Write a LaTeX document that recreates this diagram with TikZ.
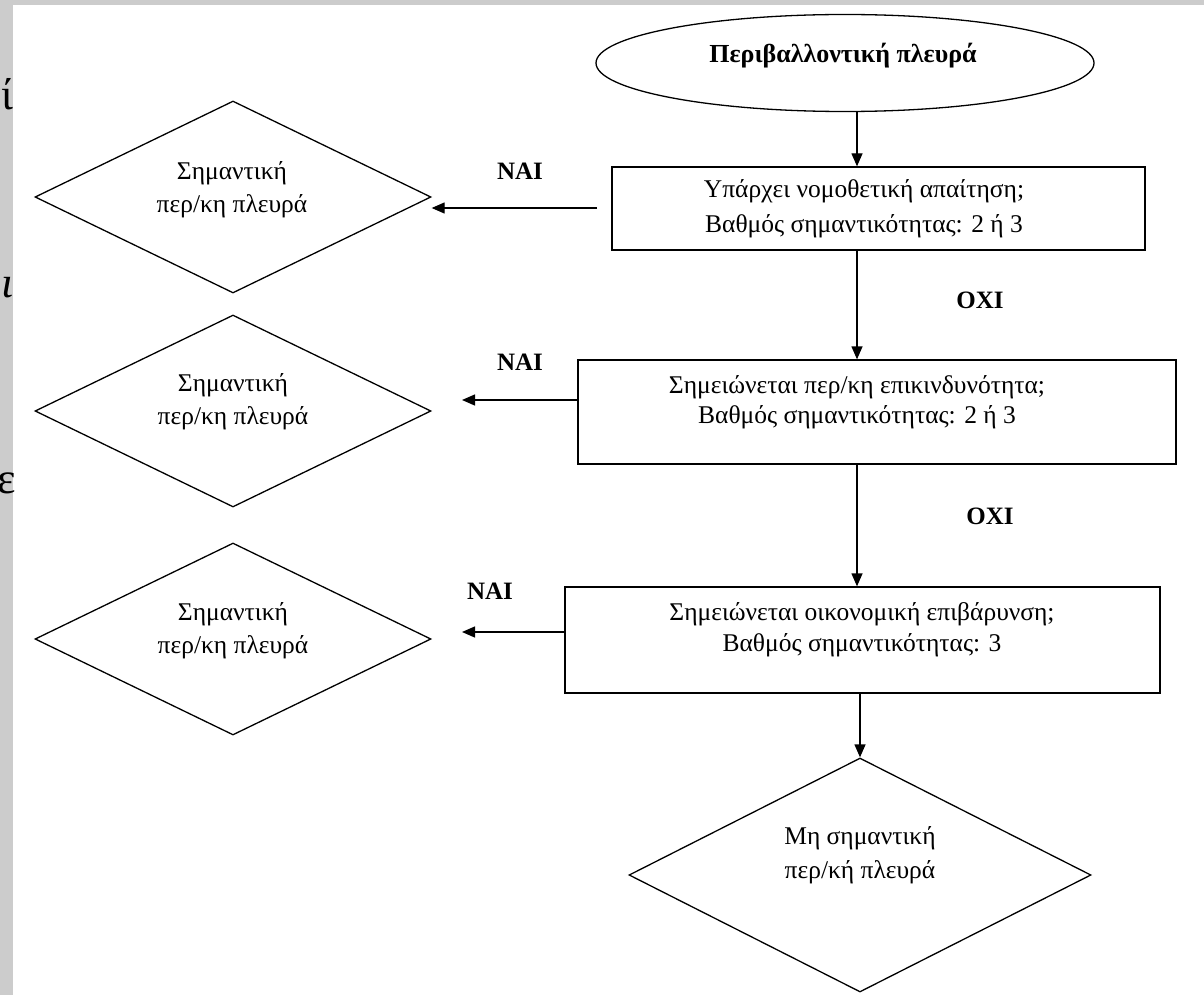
\documentclass[tikz,border=0pt]{standalone}
\usepackage{fontspec}
\setmainfont{Liberation Serif}
\usetikzlibrary{shapes.geometric,arrows.meta,calc}
\definecolor{bg}{RGB}{204,204,204}
\begin{document}
\begin{tikzpicture}[x=1pt,y=-1pt,
  shp/.style={draw=black,line width=1.3pt},
  boxn/.style={shp,rectangle,inner sep=0pt},
  diam/.style={shp,diamond,inner sep=0pt,minimum width=396pt,minimum height=192pt},
  txt/.style={align=center,inner sep=0pt},
  lbl/.style={font=\fontsize{25}{28}\selectfont\bfseries,inner sep=0pt},
  bigl/.style={font=\fontsize{44}{44}\selectfont,inner sep=0pt,anchor=base east},
  arr/.style={line width=1.3pt,-{Triangle[length=13pt,width=11pt]}},
]
\useasboundingbox (0,0) rectangle (1204,995);
\fill[bg] (0,0) rectangle (1204,995);
\fill[white] (13,5) rectangle (1204,995);
\node[bigl] (g1) at (14,110) {ί};
\node[bigl] (g2) at (14,297) {\textit{ι}};
\node[bigl] (g3) at (16,493) {ε};

\coordinate (sp) at (857,0);
% shapes
\node[shp,ellipse,minimum width=498pt,minimum height=97pt,inner sep=0pt] (start) at (845,63) {};
\node[boxn,minimum width=533pt,minimum height=83pt] (b1) at (878.5,208.5) {};
\node[boxn,minimum width=598pt,minimum height=104pt] (b2) at (877,412) {};
\node[boxn,minimum width=595pt,minimum height=106pt] (b3) at (862.5,640) {};
\node[diam] (d1) at (233,197) {};
\node[diam] (d2) at (233,411) {};
\node[diam] (d3) at (233,639) {};
\node[shp,diamond,inner sep=0pt,minimum width=462pt,minimum height=234pt] (d4) at (860,875) {};

% texts
\node[txt,font=\fontsize{26}{30}\selectfont\bfseries] (t0) at (843,56) {Περιβαλλοντική πλευρά};
\node[txt,font=\fontsize{25.5}{35}\selectfont] (t1) at (864,208.5) {Υπάρχει νομοθετική απαίτηση;\\Βαθμός σημαντικότητας: 2 ή 3};
\node[txt,font=\fontsize{25.5}{30}\selectfont] (t2) at (857,402) {Σημειώνεται περ/κη επικινδυνότητα;\\Βαθμός σημαντικότητας: 2 ή 3};
\node[txt,font=\fontsize{25.5}{31}\selectfont] (t3) at (862,630) {Σημειώνεται οικονομική επιβάρυνση;\\Βαθμός σημαντικότητας: 3};
\node[txt,font=\fontsize{25.5}{33}\selectfont] (td1) at (232,190) {Σημαντική\\περ/κη πλευρά};
\node[txt,font=\fontsize{25.5}{33}\selectfont] (td2) at (233,402) {Σημαντική\\περ/κη πλευρά};
\node[txt,font=\fontsize{25.5}{33}\selectfont] (td3) at (233,631) {Σημαντική\\περ/κη πλευρά};
\node[txt,font=\fontsize{25.5}{34}\selectfont] (td4) at (860,855) {Μη σημαντική\\περ/κή πλευρά};

% labels
\node[lbl] (n1) at (520,171) {NAI};
\node[lbl] (n2) at (520,362) {NAI};
\node[lbl] (n3) at (490,591) {NAI};
\node[lbl] (o1) at (980,300) {OXI};
\node[lbl] (o2) at (990,516) {OXI};

% connectors
\draw[arr] (start.south -| sp) -- (b1.north -| sp);
\draw[arr] (b1.south -| sp) -- (b2.north -| sp);
\draw[arr] (b2.south -| sp) -- (b3.north -| sp);
\draw[arr] (b3.south -| d4.north) -- (d4.north);
\coordinate (a1s) at (597,208);
\draw[arr] (a1s) -- (d1.east |- a1s);
\coordinate (a2) at (462,400);
\draw[arr] (b2.west |- a2) -- (a2);
\coordinate (a3) at (462,632);
\draw[arr] (b3.west |- a3) -- (a3);
\end{tikzpicture}
\end{document}
